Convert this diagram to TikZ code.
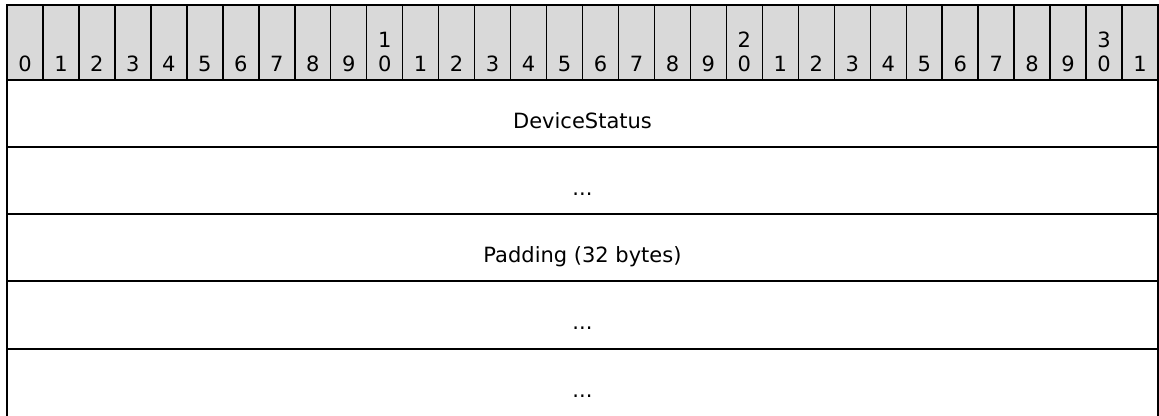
\documentclass[tikz,border=0pt]{standalone}
\usepackage{fontspec}
\setmainfont{DejaVu Sans}
\definecolor{hdr}{HTML}{D9D9D9}
\begin{document}
\begin{tikzpicture}[x=0.75pt,y=-0.75pt,line width=1.125pt,
  lbl/.style={anchor=base,inner sep=0pt,font=\fontsize{15.75pt}{19pt}\selectfont}]
\useasboundingbox (0,0) rectangle (1159,415);
\def\cw{35.97}
% header
\fill[hdr] (7,5) rectangle (1158,80);
\foreach \i in {0,...,31} {
  \draw (7+\cw*\i,5) rectangle (7+\cw*\i+\cw,80);
}
\foreach \i in {0,...,9} {
  \node[lbl] (h\i) at (7+\cw*\i+\cw/2,71) {\i};
}
\foreach \i/\a/\b in {10/1/0,11/1/1,12/1/2,13/1/3,14/1/4,15/1/5,16/1/6,17/1/7,18/1/8,19/1/9,20/2/0,21/2/1,22/2/2,23/2/3,24/2/4,25/2/5,26/2/6,27/2/7,28/2/8,29/2/9,30/3/0,31/3/1} {
  \pgfmathtruncatemacro{\r}{mod(\i,10)}
  \ifnum\r=0
    \node[lbl] (ht\i) at (7+\cw*\i+\cw/2,47) {\a};
    \node[lbl] (h\i) at (7+\cw*\i+\cw/2,71) {\b};
  \else
    \node[lbl] (h\i) at (7+\cw*\i+\cw/2,71) {\b};
  \fi
}
% rows
\draw (7,80) rectangle (1158,147);
\draw (7,147) rectangle (1158,214);
\draw (7,214) rectangle (1158,281);
\draw (7,281) rectangle (1158,349);
\draw (7,420) -- (7,349) -- (1158,349) -- (1158,420);
\node[lbl] (r1) at (582.5,128) {DeviceStatus};
\node[lbl] (r2) at (582.5,195) {...};
\node[lbl] (r3) at (582.5,262) {Padding (32 bytes)};
\node[lbl] (r4) at (582.5,329) {...};
\node[lbl] (r5) at (582.5,397) {...};
\end{tikzpicture}
\end{document}
